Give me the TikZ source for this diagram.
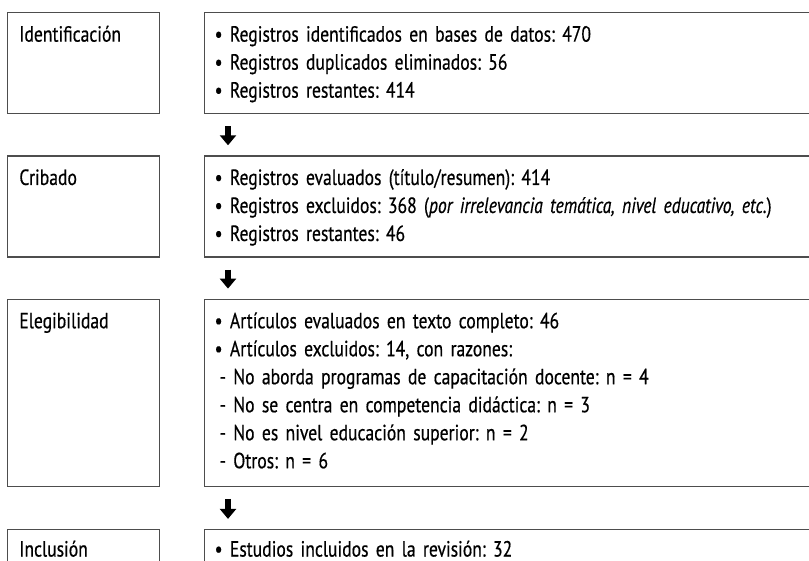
\documentclass[tikz,border=0pt]{standalone}
\usepackage{fontspec}
\setmainfont{PT Sans}[FakeStretch=0.8,WordSpace=0.75,FakeBold=0.5]
\frenchspacing
\usetikzlibrary{positioning,arrows.meta}
\definecolor{Frame}{HTML}{4D4D4D}
\tikzset{
every node/.style={draw=Frame,line width=1.3pt,inner ysep=13pt,text height=16pt,align=left,font=\fontsize{22}{28}\selectfont},
phase/.style= {rectangle,text width=128pt,inner xsep=12pt},
detail/.style= {rectangle,text width=606pt,inner xsep=10pt},
tall/.style= {text depth=#1},
flow/.style= {-{Triangle[width=16pt,length=10pt]},line width=5.5pt},
node distance = 41pt
}

\begin{document}
\begin{tikzpicture}[x=1pt,y=1pt]
\useasboundingbox (0,0) rectangle (809,-561);

\node[detail,tall=59pt,anchor=north west] (r1) at (204,-12) {• Registros identificados en bases de datos: 470\\• Registros duplicados eliminados: 56\\• Registros restantes: 414};
\node[detail,tall=59pt,below=of r1] (r2) {• Registros evaluados (título/resumen): 414\\• Registros excluidos: 368 (\textit{por irrelevancia temática, nivel educativo, etc.})\\• Registros restantes: 46};
\node[detail,tall=145pt,below=of r2] (r3) {• Artículos evaluados en texto completo: 46\\• Artículos excluidos: 14, con razones:\\\hspace*{5pt}- No aborda programas de capacitación docente: n = 4\\\hspace*{5pt}- No se centra en competencia didáctica: n = 3\\\hspace*{5pt}- No es nivel educación superior: n = 2\\\hspace*{5pt}- Otros: n = 6};
\node[detail,tall=1pt,text height=14pt,below=42pt of r3] (r4) {• Estudios incluidos en la revisión: 32};

\node[phase,tall=59pt,left=44pt of r1] (p1) {Identificación};
\node[phase,tall=59pt,left=44pt of r2] (p2) {Cribado};
\node[phase,tall=145pt,left=44pt of r3] (p3) {Elegibilidad};
\node[phase,tall=1pt,text height=14pt,left=44pt of r4] (p4) {Inclusión};

\foreach \a/\b in {r1/r2,r2/r3,r3/r4}
  \draw[flow] ([xshift=24pt,yshift=-12pt]\a.south west) -- ([xshift=24pt,yshift=10pt]\b.north west);
\end{tikzpicture}
\end{document}
